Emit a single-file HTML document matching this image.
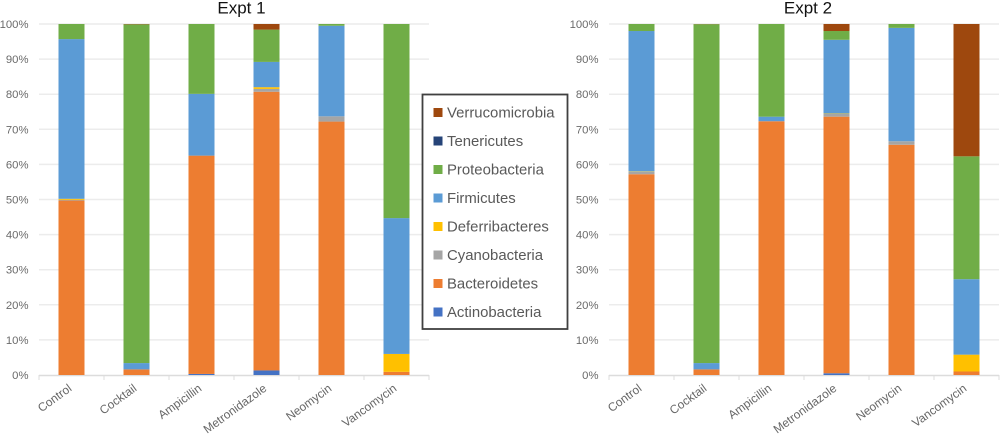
<!DOCTYPE html>
<html lang="en">
<head>
<meta charset="utf-8">
<title>Microbial composition by antibiotic treatment</title>
<style>
html,body{margin:0;padding:0;background:#fff;}
body{width:1000px;height:434px;overflow:hidden;}
svg{display:block;font-family:"Liberation Sans",sans-serif;}
</style>
</head>
<body>
<svg id="figure" width="1000" height="434" viewBox="0 0 1000 434" xmlns="http://www.w3.org/2000/svg"></svg>
<script>
const categories = ['Control', 'Cocktail', 'Ampicillin', 'Metronidazole', 'Neomycin', 'Vancomycin'];
const yTickLabels = ['0%', '10%', '20%', '30%', '40%', '50%', '60%', '70%', '80%', '90%', '100%'];
const yTickValues = [0, 10, 20, 30, 40, 50, 60, 70, 80, 90, 100];
const seriesNames = ['Actinobacteria', 'Bacteroidetes', 'Cyanobacteria', 'Deferribacteres', 'Firmicutes', 'Proteobacteria', 'Tenericutes', 'Verrucomicrobia'];
const seriesColors = ['#4472c4', '#ed7d31', '#a5a5a5', '#ffc000', '#5b9bd5', '#70ad47', '#264478', '#9e480e'];

const expt1Actinobacteria = [0, 0, 0.3, 1.3, 0, 0];
const expt1Bacteroidetes = [49.7, 1.6, 62.2, 79.4, 72.2, 0.9];
const expt1Cyanobacteria = [0.2, 0, 0, 0.8, 1.5, 0];
const expt1Deferribacteres = [0.3, 0, 0, 0.5, 0, 5.1];
const expt1Firmicutes = [45.5, 1.8, 17.6, 7.2, 25.8, 38.7];
const expt1Proteobacteria = [4.3, 96.5, 19.9, 9.2, 0.5, 55.3];
const expt1Tenericutes = [0, 0, 0, 0, 0, 0];
const expt1Verrucomicrobia = [0, 0.1, 0, 1.6, 0, 0];

const expt2Actinobacteria = [0, 0, 0, 0.5, 0, 0];
const expt2Bacteroidetes = [57.2, 1.6, 72.3, 73.1, 65.6, 1];
const expt2Cyanobacteria = [0.7, 0, 0, 0.8, 1, 0];
const expt2Deferribacteres = [0.1, 0, 0, 0.1, 0, 4.8];
const expt2Firmicutes = [40, 1.8, 1.3, 21, 32.3, 21.5];
const expt2Proteobacteria = [2, 96.55, 26.4, 2.5, 1.1, 35];
const expt2Tenericutes = [0, 0, 0, 0, 0, 0];
const expt2Verrucomicrobia = [0, 0.05, 0, 2, 0, 37.7];

const expt1Series = [expt1Actinobacteria, expt1Bacteroidetes, expt1Cyanobacteria, expt1Deferribacteres, expt1Firmicutes, expt1Proteobacteria, expt1Tenericutes, expt1Verrucomicrobia];
const expt2Series = [expt2Actinobacteria, expt2Bacteroidetes, expt2Cyanobacteria, expt2Deferribacteres, expt2Firmicutes, expt2Proteobacteria, expt2Tenericutes, expt2Verrucomicrobia];

const SVGNS = 'http://www.w3.org/2000/svg';
const figure = document.getElementById('figure');

function make(tag, attrs, parent) {
  const el = document.createElementNS(SVGNS, tag);
  for (const k in attrs) el.setAttribute(k, attrs[k]);
  parent.appendChild(el);
  return el;
}

const PLOT_TOP = 24;
const PLOT_BOTTOM = 375;
const CAT_W = 65;
const BAR_W = 26;

function yScale(v) {
  return PLOT_BOTTOM - (v / 100) * (PLOT_BOTTOM - PLOT_TOP);
}

function slug(s) {
  return s.toLowerCase();
}

function drawChart(prefix, title, titleX, plotLeft, series) {
  const xScale = function (i) { return plotLeft + CAT_W * i + CAT_W / 2; };
  const plotRight = plotLeft + CAT_W * categories.length;

  const g = make('g', {}, figure);
  
  

  const titleEl = make('text', { x: titleX, y: 13.5, 'text-anchor': 'middle', 'font-size': 17, fill: '#111' }, g);
  
  
  titleEl.textContent = title;

  yTickValues.forEach(function (v, i) {
    if (v > 0) {
      const line = make('line', { x1: plotLeft, x2: plotRight, y1: yScale(v), y2: yScale(v), stroke: '#ececec', 'stroke-width': 1.5 }, g);
      
      
    }
    const label = make('text', { x: plotLeft - 10.5, y: yScale(v) + 4, 'text-anchor': 'end', 'font-size': 11.3, fill: '#6a6a6a' }, g);
    
    
    label.textContent = yTickLabels[i];
  });

  const axis = make('line', { x1: plotLeft, x2: plotRight, y1: PLOT_BOTTOM + 0.5, y2: PLOT_BOTTOM + 0.5, stroke: '#dcdcdc', 'stroke-width': 1.5 }, g);
  
  

  for (let t = 0; t <= categories.length; t++) {
    const tx = plotLeft + CAT_W * t;
    const tick = make('line', { x1: tx, x2: tx, y1: PLOT_BOTTOM, y2: PLOT_BOTTOM + 5, stroke: '#dcdcdc', 'stroke-width': 1 }, g);
    
    
  }

  categories.forEach(function (cat, i) {
    let total = 0;
    series.forEach(function (s) { total += s[i]; });
    let cum = 0;
    series.forEach(function (s, j) {
      const share = total > 0 ? (s[i] / total) * 100 : 0;
      const top = yScale(cum + share);
      const bottom = yScale(cum);
      cum += share;
      if (share <= 0) return;
      const bar = make('rect', { x: xScale(i) - BAR_W / 2, y: top, width: BAR_W, height: bottom - top, fill: seriesColors[j] }, g);
      
      
    });

    const ax = xScale(i) + 1;
    const ay = 390;
    const catLabel = make('text', { x: ax, y: ay, 'text-anchor': 'end', 'font-size': 11.9, fill: '#666', transform: 'rotate(-36 ' + ax + ' ' + ay + ')' }, g);
    
    
    catLabel.textContent = cat;
  });
}

drawChart('expt-1', 'Expt 1', 241.5, 39, expt1Series);
drawChart('expt-2', 'Expt 2', 808, 609, expt2Series);

const legend = make('g', {}, figure);



const legendBox = make('rect', { x: 422.5, y: 94.5, width: 145, height: 234.5, fill: '#fff', stroke: '#404040', 'stroke-width': 1.8 }, legend);



const legendOrder = ['Verrucomicrobia', 'Tenericutes', 'Proteobacteria', 'Firmicutes', 'Deferribacteres', 'Cyanobacteria', 'Bacteroidetes', 'Actinobacteria'];

legendOrder.forEach(function (name, row) {
  const cy = 112.5 + row * 28.5;
  const color = seriesColors[seriesNames.indexOf(name)];
  const entry = make('g', {}, legend);
  
  
  const swatch = make('rect', { x: 433.5, y: cy - 4.5, width: 9, height: 9, fill: color }, entry);
  
  
  const label = make('text', { x: 447, y: cy + 5, 'font-size': 14.9, fill: '#595959' }, entry);
  
  
  label.textContent = name;
});
</script>
</body>
</html>
